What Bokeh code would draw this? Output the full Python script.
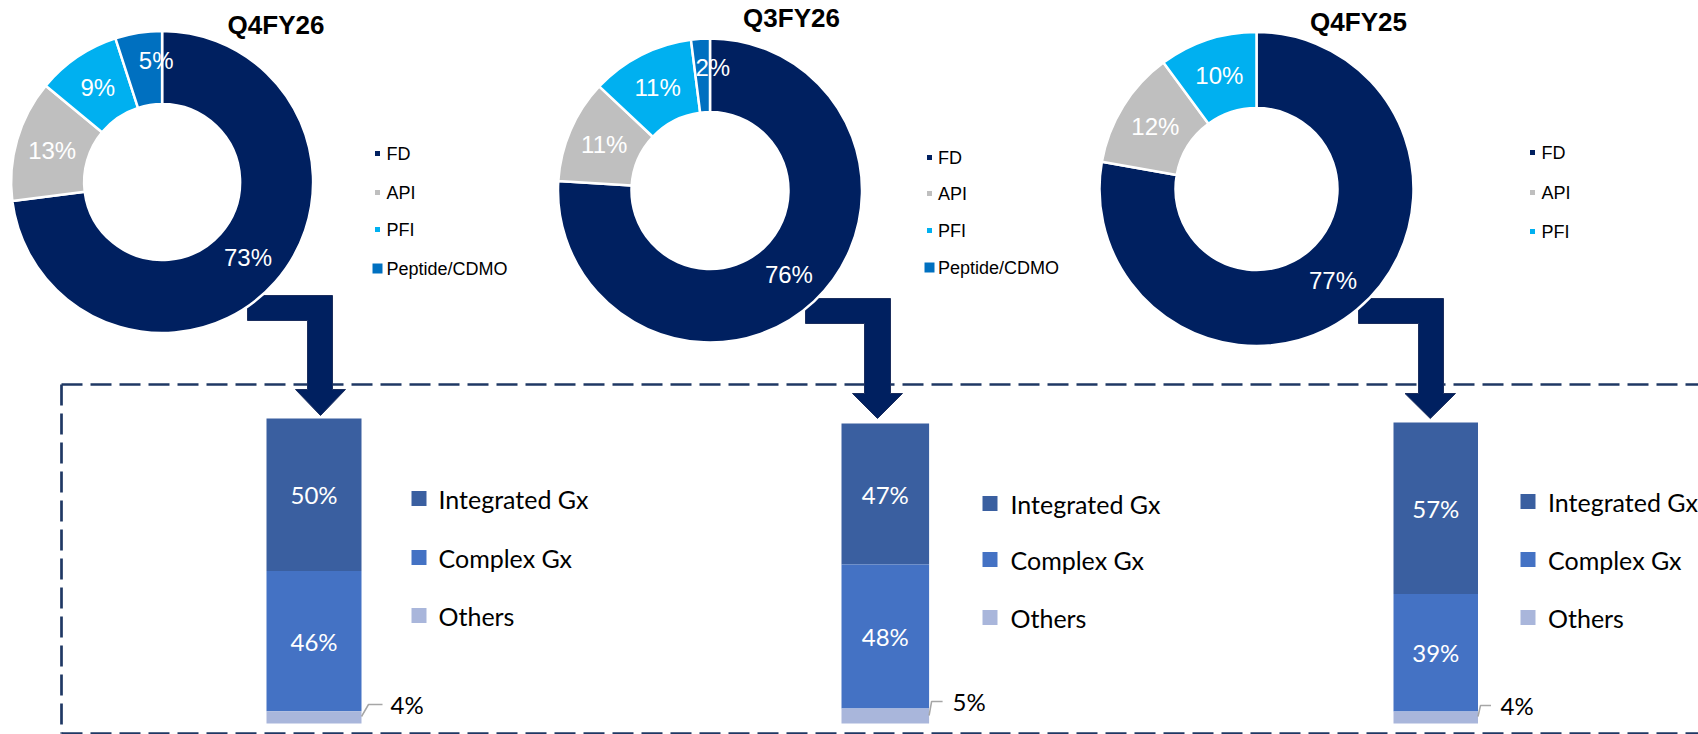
import numpy as np
from bokeh.plotting import figure
from bokeh.models import Range1d
from bokeh.core.properties import value
from bokeh.embed import file_html
from bokeh.resources import INLINE

# ---------------- data ----------------
periods = ["Q4FY26", "Q3FY26", "Q4FY25"]
segments = ["FD", "API", "PFI", "Peptide/CDMO"]
q4fy26_mix = [73, 13, 9, 5]
q3fy26_mix = [76, 11, 11, 2]
q4fy25_mix = [77, 12, 10]
fd_parts = ["Integrated Gx", "Complex Gx", "Others"]
q4fy26_fd = [50, 46, 4]
q3fy26_fd = [47, 48, 5]
q4fy25_fd = [57, 39, 4]

mixes = [q4fy26_mix, q3fy26_mix, q4fy25_mix]
fds = [q4fy26_fd, q3fy26_fd, q4fy25_fd]

# ---------------- styles ----------------
seg_colors = ["#002060", "#BFBFBF", "#00B0F0", "#0070C0"]
seg_marker_sizes = [5, 5, 5, 10]
fd_colors = ["#3A5FA0", "#4472C4", "#A9B6DB"]
NAVY = "#002060"
DASH = "#1F3864"
ARIAL = value("Liberation Sans")
CALI = value("Lato")

# ---------------- layout (page pixels, y downwards) ----------------
layout = [
    dict(cx=161.6, cy=181.5, R=151, r=78, title=(275.5, 24),
         leg=(377, 386, [153, 192, 229, 268]),
         nudge=[(0, 0), (0, 0), (0, 0), (12, -8)],
         arrow=(247, 295, 320, 307, 332, 389, 295, 345, 415),
         bar=(266, 361, 723, 3.05), bleg=(418.5, 438, [498, 557, 615]),
         oth=(716, 7, 21, 29, 704)),
    dict(cx=709.5, cy=190, R=152, r=78.5, title=(791, 17.5),
         leg=(929, 937.5, [157, 193, 230, 267]),
         nudge=[(0, 0), (0, 0), (0, 0), (10, -8)],
         arrow=(805, 298, 323, 864, 890, 393, 852, 902, 418),
         bar=(841, 928.6, 723, 3.0), bleg=(989.5, 1010, [503, 559, 617]),
         oth=(715, 2.5, 13.5, 23.5, 701)),
    dict(cx=1256, cy=188.5, R=157, r=81, title=(1358, 21.5),
         leg=(1532, 1541, [152, 192, 231]),
         nudge=[(0, 0), (0, 0), (0, 0)],
         arrow=(1358, 298, 323, 1418, 1443, 393, 1404.5, 1455, 418),
         bar=(1393, 1477.5, 723, 3.01), bleg=(1527.5, 1547.5, [501, 559, 617]),
         oth=(716, 2.5, 13, 22.5, 705)),
]

W, H = 1698, 734
p = figure(width=W, height=H, x_range=Range1d(0, W), y_range=Range1d(-H, 0),
           output_backend="svg", toolbar_location=None, min_border=0)
p.axis.visible = False
p.grid.visible = False
p.outline_line_color = None
p.background_fill_color = "white"
p.border_fill_color = "white"


def Y(v):
    return -np.asarray(v, dtype=float)


# dashed frame (right side runs off the page)
p.multi_line(xs=[[61, 1720], [61, 61], [61, 1720]],
             ys=[list(Y([384, 384])), list(Y([384, 733])), list(Y([733, 733]))],
             line_color=DASH, line_width=2.7, line_dash="21 8")

for i, L in enumerate(layout):
    mix = mixes[i]
    fd = fds[i]

    # elbow arrow (behind donut)
    al, at, ab, sl, sr, hy, hl, hr, ty = L["arrow"]
    tx = (hl + hr) / 2
    ax = [al, sr, sr, hr, tx, hl, sl, sl, al]
    ay = [at, at, hy, hy, ty, hy, hy, ab, ab]
    p.patch(ax, Y(ay), fill_color=NAVY, line_color="#1B2E5E", line_width=1)

    # donut
    vals = np.array(mix, dtype=float)
    frac = vals / vals.sum()
    c1 = np.cumsum(frac)
    c0 = c1 - frac
    start = np.pi / 2 - 2 * np.pi * c0
    end = np.pi / 2 - 2 * np.pi * c1
    n = len(mix)
    p.annular_wedge(x=[L["cx"]] * n, y=[-L["cy"]] * n, inner_radius=L["r"], outer_radius=L["R"],
                    start_angle=start, end_angle=end, direction="clock",
                    fill_color=seg_colors[:n], line_color="white", line_width=2.5)
    mid = (start + end) / 2
    rho = (L["R"] + L["r"]) / 2
    nx = np.array([d[0] for d in L["nudge"]], dtype=float)
    ny = np.array([d[1] for d in L["nudge"]], dtype=float)
    lx = L["cx"] + rho * np.cos(mid) + nx
    ly = -L["cy"] + rho * np.sin(mid) - ny
    p.text(x=lx, y=ly, text=[f"{v}%" for v in mix], text_color="white",
           text_font=ARIAL, text_font_size="24px", text_align="center", text_baseline="middle")

    # title
    p.text(x=[L["title"][0]], y=[-L["title"][1]], text=[periods[i]], text_font=ARIAL,
           text_font_size="26px", text_font_style="bold", text_color="black",
           text_align="center", text_baseline="middle")

    # donut legend
    mx, tx0, rows = L["leg"]
    p.scatter(x=[mx] * n, y=Y(rows), marker="square", size=seg_marker_sizes[:n],
              fill_color=seg_colors[:n], line_color=None)
    p.text(x=[tx0] * n, y=Y(rows), text=segments[:n], text_font=ARIAL, text_font_size="18px",
           text_color="black", text_align="left", text_baseline="middle")

    # stacked bar (Integrated on top, Others at bottom)
    bl, br, bb, ppp = L["bar"]
    fvals = np.array(fd, dtype=float)
    tops_from_bottom = np.cumsum(fvals[::-1])[::-1]
    bottoms_from_bottom = tops_from_bottom - fvals
    top_py = bb - tops_from_bottom * ppp
    bot_py = bb - bottoms_from_bottom * ppp
    p.quad(left=[bl] * 3, right=[br] * 3, top=Y(top_py), bottom=Y(bot_py),
           fill_color=fd_colors, line_color=None)
    bcx = (bl + br) / 2
    p.text(x=[bcx] * 2, y=Y((top_py[:2] + bot_py[:2]) / 2), text=[f"{v}%" for v in fd[:2]],
           text_color="white", text_font=CALI, text_font_size="24px",
           text_align="center", text_baseline="middle")

    # "Others" label with leader line
    ly0, knee, lend, toff, laby = L["oth"]
    p.line(x=[br, br + knee, br + lend], y=Y([ly0, laby, laby]), line_color="#A6A6A6", line_width=1.5)
    p.text(x=[br + toff], y=[-laby], text=[f"{fd[2]}%"], text_color="black", text_font=CALI,
           text_font_size="24px", text_align="left", text_baseline="middle")

    # bar legend
    bmx, btx, brows = L["bleg"]
    p.scatter(x=[bmx] * 3, y=Y(brows), marker="square", size=15, fill_color=fd_colors, line_color=None)
    p.text(x=[btx] * 3, y=Y(brows), text=fd_parts, text_font=CALI, text_font_size="25px",
           text_color="black", text_align="left", text_baseline="middle")

open("out.html", "w").write(file_html(p, INLINE))
